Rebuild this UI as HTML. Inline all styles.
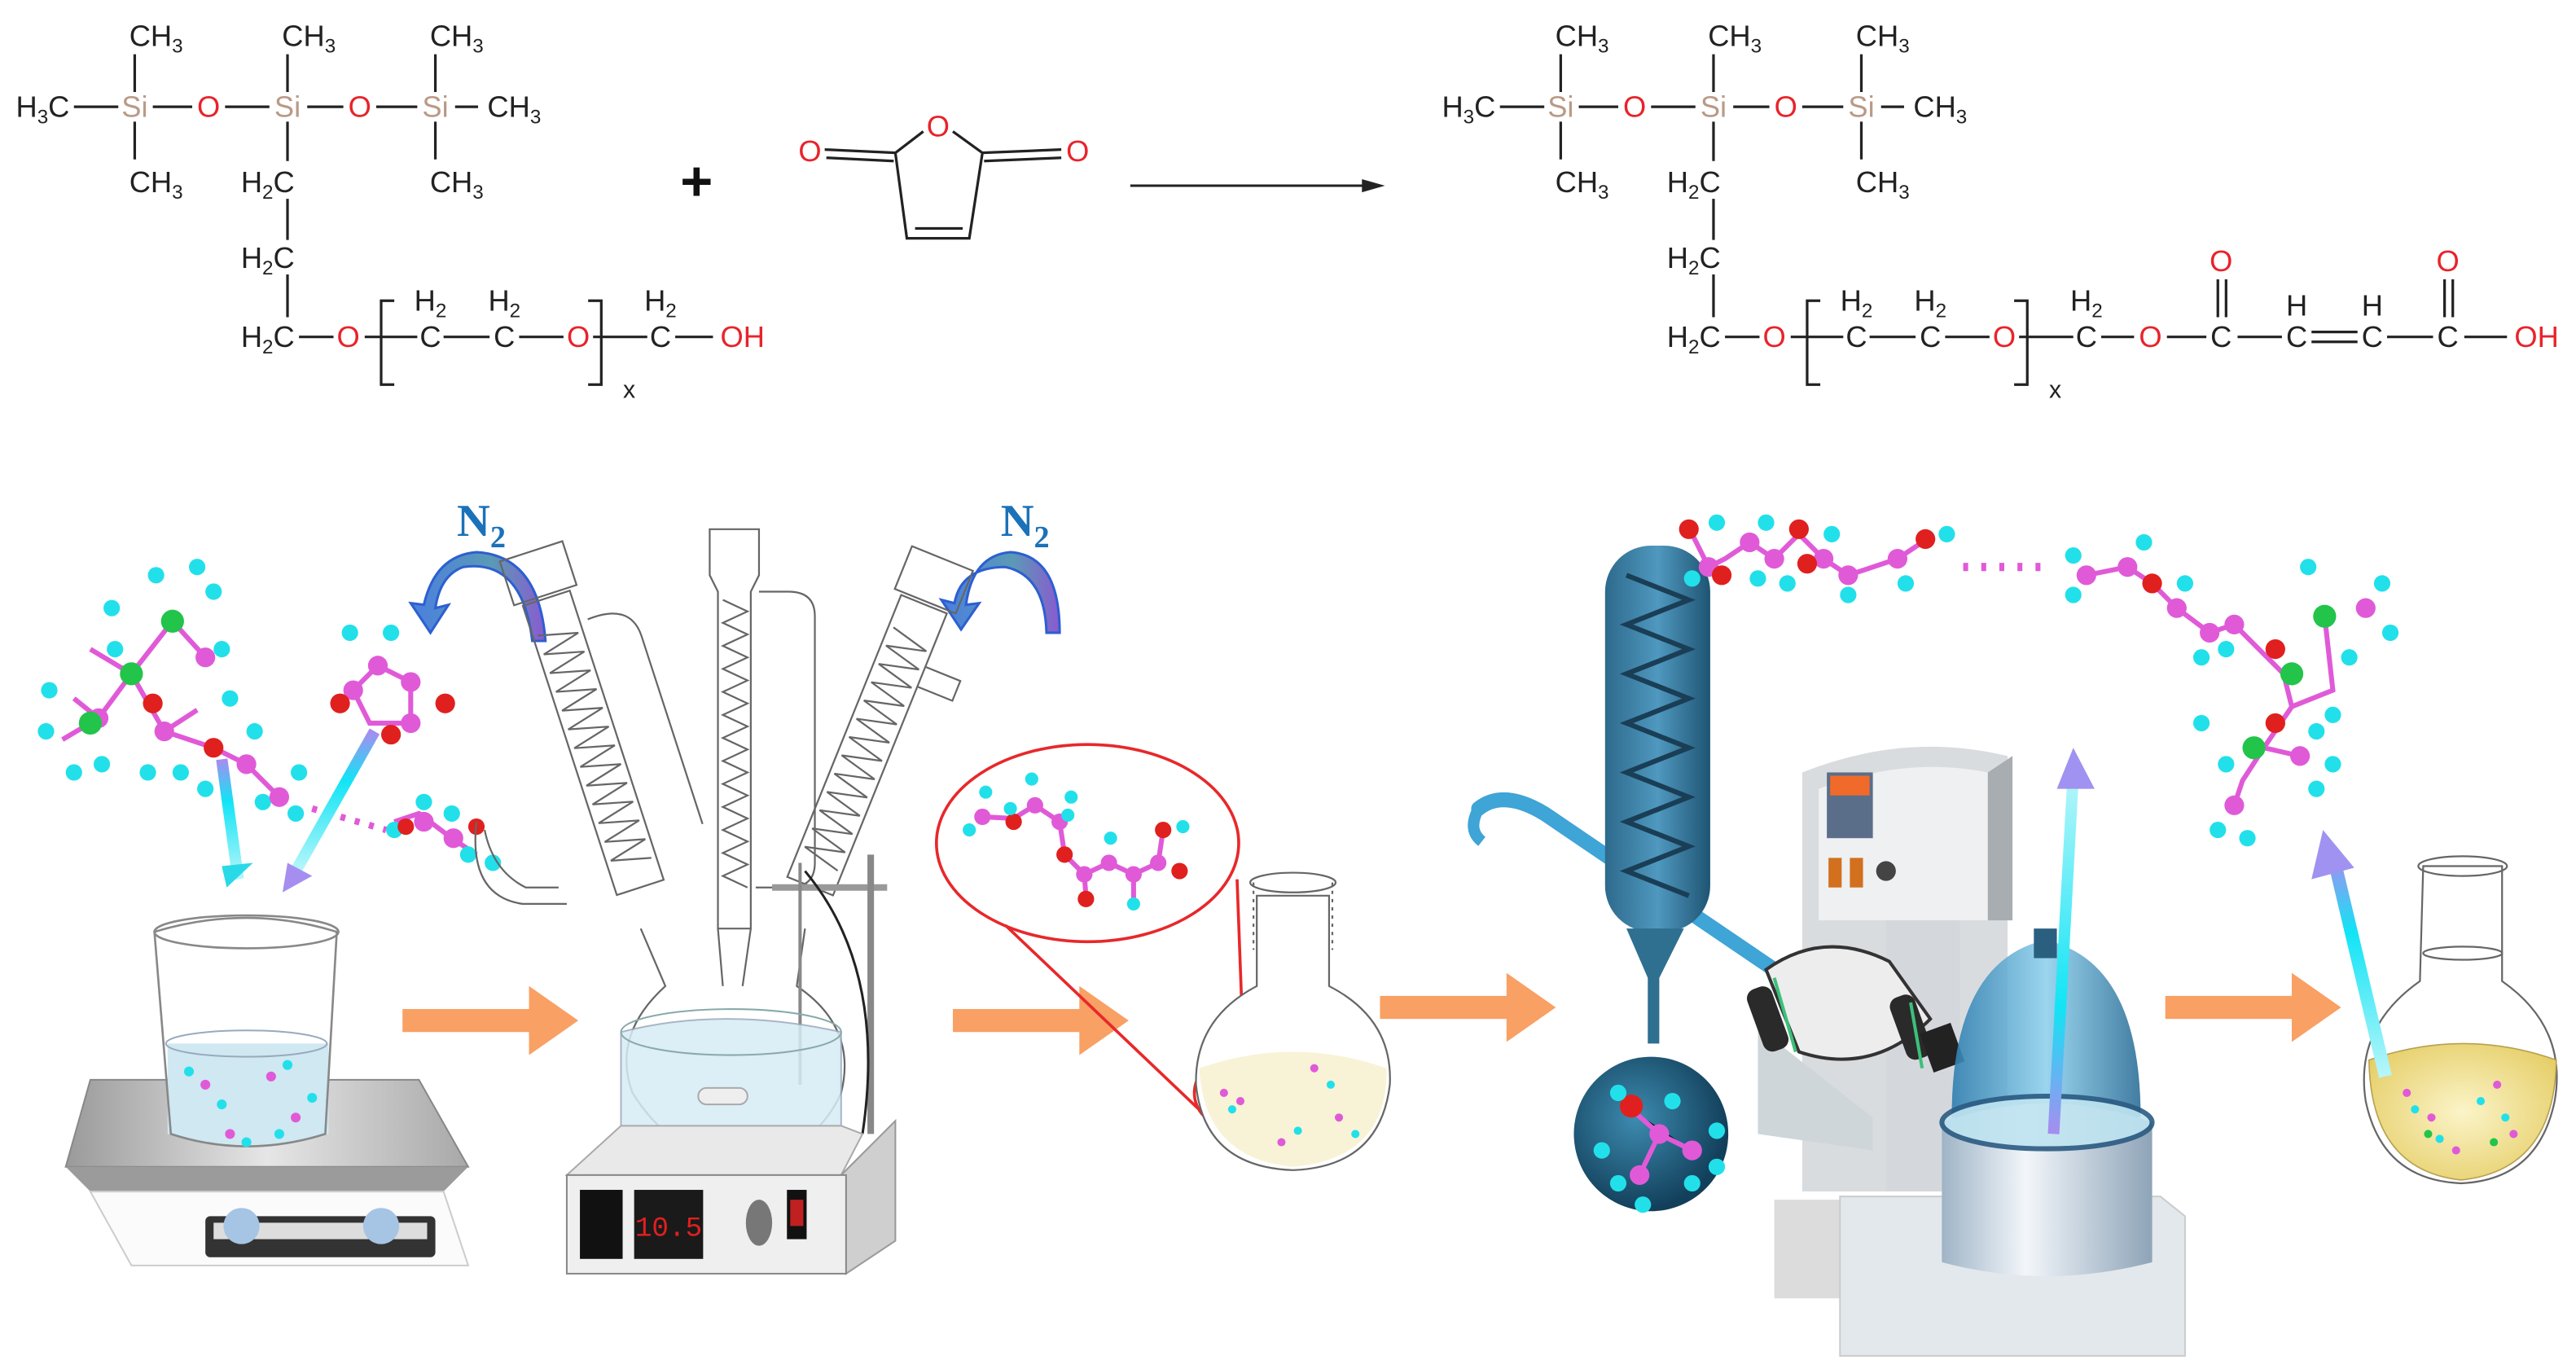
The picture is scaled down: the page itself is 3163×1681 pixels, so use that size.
<!DOCTYPE html>
<html><head><meta charset="utf-8"><style>
html,body{margin:0;padding:0;background:#fff;}
svg{display:block;}
.t{font-family:"Liberation Sans",sans-serif;font-size:18px;fill:#222;text-anchor:middle;}
.s{font-size:12px;}
.r{fill:#e8232a;}
.si{fill:#b99a86;}
.b{stroke:#222;stroke-width:1.6;fill:none;}
.g{stroke:#666;stroke-width:1.1;fill:none;}
</style></head><body>
<svg width="3163" height="1681" viewBox="0 0 1568 833" preserveAspectRatio="none" xmlns="http://www.w3.org/2000/svg">
<defs>
<linearGradient id="cy" x1="0" y1="0" x2="0" y2="1"><stop offset="0" stop-color="#a88cf0"/><stop offset="0.35" stop-color="#11e4f5"/><stop offset="1" stop-color="#b8f6fa"/></linearGradient>
<linearGradient id="n2" x1="0" y1="0" x2="1" y2="0"><stop offset="0" stop-color="#4a7fe0"/><stop offset="0.6" stop-color="#5a9ab5"/><stop offset="1" stop-color="#8a5ad0"/></linearGradient>
<linearGradient id="grey" x1="0" y1="0" x2="1" y2="0"><stop offset="0" stop-color="#9a9a9a"/><stop offset="0.5" stop-color="#e6e6e6"/><stop offset="1" stop-color="#a8a8a8"/></linearGradient>
<linearGradient id="col" x1="0" y1="0" x2="1" y2="0"><stop offset="0" stop-color="#2d6a8c"/><stop offset="0.5" stop-color="#4f98bf"/><stop offset="1" stop-color="#1f5473"/></linearGradient>
<radialGradient id="yel" cx="0.5" cy="0.5" r="0.6"><stop offset="0" stop-color="#fbf4c8"/><stop offset="1" stop-color="#e6cf6a"/></radialGradient>
<radialGradient id="bulb" cx="0.4" cy="0.4" r="0.6"><stop offset="0" stop-color="#3d8bb0"/><stop offset="1" stop-color="#123f5a"/></radialGradient>
<linearGradient id="dome" x1="0" y1="0" x2="1" y2="0"><stop offset="0" stop-color="#2f7fb0"/><stop offset="0.5" stop-color="#8fd0ec"/><stop offset="1" stop-color="#2d6f98"/></linearGradient>
<linearGradient id="pot" x1="0" y1="0" x2="1" y2="0"><stop offset="0" stop-color="#9fb4c6"/><stop offset="0.4" stop-color="#f2f6fa"/><stop offset="1" stop-color="#8ea4b8"/></linearGradient>
</defs>

<!-- ===== Reactant 1 ===== -->
<g>
<text class="t" x="95" y="28">CH<tspan class="s" dy="4">3</tspan></text>
<text class="t" x="188" y="28">CH<tspan class="s" dy="4">3</tspan></text>
<text class="t" x="278" y="28">CH<tspan class="s" dy="4">3</tspan></text>
<text class="t" x="26" y="71">H<tspan class="s" dy="4">3</tspan><tspan dy="-4">C</tspan></text>
<text class="t si" x="82" y="71">Si</text>
<text class="t r" x="127" y="71">O</text>
<text class="t si" x="175" y="71">Si</text>
<text class="t r" x="219" y="71">O</text>
<text class="t si" x="265" y="71">Si</text>
<text class="t" x="313" y="71">CH<tspan class="s" dy="4">3</tspan></text>
<text class="t" x="95" y="117">CH<tspan class="s" dy="4">3</tspan></text>
<text class="t" x="278" y="117">CH<tspan class="s" dy="4">3</tspan></text>
<text class="t" x="163" y="117">H<tspan class="s" dy="4">2</tspan><tspan dy="-4">C</tspan></text>
<text class="t" x="163" y="163">H<tspan class="s" dy="4">2</tspan><tspan dy="-4">C</tspan></text>
<text class="t" x="163" y="211">H<tspan class="s" dy="4">2</tspan><tspan dy="-4">C</tspan></text>
<text class="t r" x="212" y="211">O</text>
<text class="t" x="262" y="211">C</text>
<text class="t" x="307" y="211">C</text>
<text class="t r" x="352" y="211">O</text>
<text class="t" x="402" y="211">C</text>
<text class="t" x="262" y="189">H<tspan class="s" dy="4">2</tspan></text>
<text class="t" x="307" y="189">H<tspan class="s" dy="4">2</tspan></text>
<text class="t" x="402" y="189">H<tspan class="s" dy="4">2</tspan></text>
<text class="t" x="383" y="242" style="font-size:15px">x</text>
<path class="b" d="M82,33V56 M82,74V97 M175,33V56 M175,74V98 M265,33V56 M265,74V97
M45,65H72 M93,65H117 M137,65H164 M187,65H209 M229,65H254 M277,65H291
M175,121V146 M175,167V193 M182,205H203 M222,205H254 M270,205H298 M316,205H343 M361,205H394
M240,183H232V234H240 M358,183H366V234H358"/>
</g>
<text class="t r" x="452" y="211">OH</text>
<path class="b" d="M411,205H434"/>

<text x="424" y="122" style="font-family:'Liberation Sans',sans-serif;font-size:34px;font-weight:bold;text-anchor:middle;fill:#111">+</text>

<text class="t r" x="571" y="83">O</text>
<text class="t r" x="493" y="98">O</text>
<text class="t r" x="656" y="98">O</text>
<path class="b" d="M562,80L545,93L552,145L590,145L598,93L580,80 M557,139H586 M545,93L502,91 M544,98L503,96 M598,93L646,91 M599,98L646,96"/>

<path d="M688,113H830" stroke="#222" stroke-width="1.5"/>
<path d="M843,113L829,109L829,117Z" fill="#222"/>

<!-- ===== Product ===== -->
<g transform="translate(868,0)">
<text class="t" x="95" y="28">CH<tspan class="s" dy="4">3</tspan></text>
<text class="t" x="188" y="28">CH<tspan class="s" dy="4">3</tspan></text>
<text class="t" x="278" y="28">CH<tspan class="s" dy="4">3</tspan></text>
<text class="t" x="26" y="71">H<tspan class="s" dy="4">3</tspan><tspan dy="-4">C</tspan></text>
<text class="t si" x="82" y="71">Si</text>
<text class="t r" x="127" y="71">O</text>
<text class="t si" x="175" y="71">Si</text>
<text class="t r" x="219" y="71">O</text>
<text class="t si" x="265" y="71">Si</text>
<text class="t" x="313" y="71">CH<tspan class="s" dy="4">3</tspan></text>
<text class="t" x="95" y="117">CH<tspan class="s" dy="4">3</tspan></text>
<text class="t" x="278" y="117">CH<tspan class="s" dy="4">3</tspan></text>
<text class="t" x="163" y="117">H<tspan class="s" dy="4">2</tspan><tspan dy="-4">C</tspan></text>
<text class="t" x="163" y="163">H<tspan class="s" dy="4">2</tspan><tspan dy="-4">C</tspan></text>
<text class="t" x="163" y="211">H<tspan class="s" dy="4">2</tspan><tspan dy="-4">C</tspan></text>
<text class="t r" x="212" y="211">O</text>
<text class="t" x="262" y="211">C</text>
<text class="t" x="307" y="211">C</text>
<text class="t r" x="352" y="211">O</text>
<text class="t" x="402" y="211">C</text>
<text class="t" x="262" y="189">H<tspan class="s" dy="4">2</tspan></text>
<text class="t" x="307" y="189">H<tspan class="s" dy="4">2</tspan></text>
<text class="t" x="402" y="189">H<tspan class="s" dy="4">2</tspan></text>
<text class="t" x="383" y="242" style="font-size:15px">x</text>
<path class="b" d="M82,33V56 M82,74V97 M175,33V56 M175,74V98 M265,33V56 M265,74V97
M45,65H72 M93,65H117 M137,65H164 M187,65H209 M229,65H254 M277,65H291
M175,121V146 M175,167V193 M182,205H203 M222,205H254 M270,205H298 M316,205H343 M361,205H394
M240,183H232V234H240 M358,183H366V234H358"/>
</g>
<text class="t r" x="1309" y="211">O</text>
<text class="t" x="1352" y="211">C</text>
<text class="t r" x="1352" y="165">O</text>
<text class="t" x="1398" y="211">C</text>
<text class="t" x="1398" y="192">H</text>
<text class="t" x="1444" y="211">C</text>
<text class="t" x="1444" y="192">H</text>
<text class="t" x="1490" y="211">C</text>
<text class="t r" x="1490" y="165">O</text>
<text class="t r" x="1544" y="211">OH</text>
<path class="b" d="M1279,205H1299 M1319,205H1343 M1362,205H1389 M1407,202H1435 M1407,208H1435 M1453,205H1481 M1500,205H1526 M1350,170V193 M1355,170V193 M1488,170V193 M1493,170V193"/>

<!-- ===== Illustration ===== -->
<g fill="#f9a064">
<path d="M245,614H322V600L352,621L322,642V628H245Z"/>
<path d="M580,614H657V600L687,621L657,642V628H580Z"/>
<path d="M840,606H917V592L947,613L917,634V620H840Z"/>
<path d="M1318,606H1395V592L1425,613L1395,634V620H1318Z"/>
</g>

<!-- left molecules -->
<g stroke="#e05ad8" stroke-width="3" fill="none">
<path d="M105,378L80,410L60,437L38,450 M80,410L100,445L130,455L150,465L170,485 M105,378L125,400 M80,410L55,395 M60,437L45,425 M100,445L120,432"/>
<path d="M240,500L255,495L275,510L290,520"/>
<path d="M215,420L230,405L250,415L250,440L225,440Z"/>
</g>
<path d="M190,492L235,505" stroke="#e05ad8" stroke-dasharray="3,6" stroke-width="4" fill="none"/>
<g fill="#22e0ea">
<circle cx="95" cy="350" r="5"/><circle cx="120" cy="345" r="5"/><circle cx="130" cy="360" r="5"/><circle cx="68" cy="370" r="5"/><circle cx="70" cy="395" r="5"/><circle cx="30" cy="420" r="5"/><circle cx="28" cy="445" r="5"/><circle cx="45" cy="470" r="5"/><circle cx="62" cy="465" r="5"/><circle cx="90" cy="470" r="5"/><circle cx="110" cy="470" r="5"/><circle cx="140" cy="425" r="5"/><circle cx="135" cy="395" r="5"/><circle cx="155" cy="445" r="5"/><circle cx="125" cy="480" r="5"/><circle cx="182" cy="470" r="5"/><circle cx="180" cy="495" r="5"/><circle cx="160" cy="488" r="5"/>
<circle cx="213" cy="385" r="5"/><circle cx="238" cy="385" r="5"/>
<circle cx="240" cy="505" r="5"/><circle cx="258" cy="488" r="5"/><circle cx="275" cy="495" r="5"/><circle cx="285" cy="520" r="5"/><circle cx="300" cy="525" r="5"/>
</g>
<g fill="#e05ad8"><circle cx="60" cy="437" r="6"/><circle cx="100" cy="445" r="6"/><circle cx="150" cy="465" r="6"/><circle cx="170" cy="485" r="6"/><circle cx="125" cy="400" r="6"/><circle cx="215" cy="420" r="6"/><circle cx="250" cy="415" r="6"/><circle cx="230" cy="405" r="6"/><circle cx="250" cy="440" r="6"/><circle cx="258" cy="500" r="6"/><circle cx="276" cy="510" r="6"/></g>
<g fill="#e0201e"><circle cx="130" cy="455" r="6"/><circle cx="93" cy="428" r="6"/><circle cx="207" cy="428" r="6"/><circle cx="271" cy="428" r="6"/><circle cx="238" cy="447" r="6"/><circle cx="247" cy="503" r="5"/><circle cx="290" cy="503" r="5"/></g>
<g fill="#22c44a"><circle cx="105" cy="378" r="7"/><circle cx="80" cy="410" r="7"/><circle cx="55" cy="440" r="7"/></g>

<path d="M135,462L145,535" stroke="url(#cy)" stroke-width="7"/>
<path d="M138,540L135,527L154,525Z" fill="#2ad9e8"/>
<path d="M228,445L180,530" stroke="url(#cy)" stroke-width="7"/>
<path d="M172,543L175,525L190,533Z" fill="#a68ef0"/>

<!-- hot plate 1 -->
<path d="M55,657H255L285,710H40Z" fill="url(#grey)" stroke="#888" stroke-width="1"/>
<path d="M40,710H285L270,725H55Z" fill="#9b9b9b"/>
<path d="M55,725H270L285,770H80Z" fill="#fbfbfb" stroke="#ccc"/>
<rect x="125" y="740" width="140" height="25" fill="#333" rx="3"/>
<rect x="130" y="744" width="130" height="10" fill="#ddd"/>
<circle cx="147" cy="746" r="11" fill="#a6c4e4"/><circle cx="232" cy="746" r="11" fill="#a6c4e4"/>
<path d="M102,635H200V690Q151,705 102,690Z" fill="#cfe8f2"/>
<path d="M94,567Q150,550 205,567L198,690Q150,705 104,690Z" fill="none" stroke="#888" stroke-width="1.3"/>
<ellipse cx="150" cy="567" rx="56" ry="10" fill="none" stroke="#888" stroke-width="1.3"/>
<ellipse cx="150" cy="635" rx="49" ry="8" fill="none" stroke="#9ab" stroke-width="1"/>
<g fill="#e05ad8"><circle cx="125" cy="660" r="3"/><circle cx="165" cy="655" r="3"/><circle cx="140" cy="690" r="3"/><circle cx="180" cy="680" r="3"/></g>
<g fill="#22e0ea"><circle cx="115" cy="652" r="3"/><circle cx="135" cy="672" r="3"/><circle cx="175" cy="648" r="3"/><circle cx="190" cy="668" r="3"/><circle cx="150" cy="695" r="3"/><circle cx="170" cy="690" r="3"/></g>

<!-- N2 -->
<text x="293" y="326" style="font-family:'Liberation Serif',serif;font-weight:bold;font-size:28px;fill:#1b72b8;text-anchor:middle">N<tspan style="font-size:19px" dy="7">2</tspan></text>
<text x="624" y="326" style="font-family:'Liberation Serif',serif;font-weight:bold;font-size:28px;fill:#1b72b8;text-anchor:middle">N<tspan style="font-size:19px" dy="7">2</tspan></text>
<path d="M324,390Q318,340 282,345Q268,350 265,370L273,368L262,385L250,367L258,368Q265,338 290,336Q328,338 332,390Z" fill="url(#n2)" stroke="#2d5fd0" stroke-width="1.5"/>
<path d="M645,385Q645,338 615,336Q592,338 588,368L596,367L585,383L573,365L581,367Q585,345 612,345Q636,350 637,385Z" fill="url(#n2)" stroke="#2d5fd0" stroke-width="1.5"/>

<!-- glassware -->
<g class="g">
<path d="M432,322H462V350L457,360V565H437V360L432,350Z"/>
<path d="M440,365L455,372L440,379L455,386L440,393L455,400L440,407L455,414L440,421L455,428L440,435L455,442L440,449L455,456L440,463L455,470L440,477L455,484L440,491L455,498L440,505L455,512L440,519L455,526L440,533L455,540"/>
<path d="M462,360H480Q496,360 496,375V525Q496,540 480,540H460"/>
<g transform="rotate(-18 360 455)">
<path d="M347,360H377V545H347Z"/>
<path d="M350,380L374,386L350,392L374,398L350,404L374,410L350,416L374,422L350,428L374,434L350,440L374,446L350,452L374,458L350,464L374,470L350,476L374,482L350,488L374,494L350,500L374,506L350,512L374,518L350,524L374,530"/>
<path d="M342,330H382V358H342Z"/>
<path d="M382,380Q410,378 410,400V520"/>
</g>
<g transform="rotate(22 525 455)">
<path d="M512,360H542V545H512Z"/>
<path d="M515,380L539,386L515,392L539,398L515,404L539,410L515,416L539,422L515,428L539,434L515,440L539,446L515,452L539,458L515,464L539,470L515,476L539,482L515,488L539,494L515,500L539,506L515,512L539,518L515,524L539,530"/>
<path d="M507,330H547V358H507Z"/>
<path d="M542,395H565V408H542"/>
</g>
<path d="M295,505Q300,530 320,540H340"/>
<path d="M290,500Q285,545 318,550H345"/>
<path d="M390,565L405,600Q372,630 385,665Q410,705 450,705Q495,703 512,665Q522,625 485,600L490,565"/>
<path d="M437,565L440,600 M457,565L452,600"/>
</g>
<path d="M470,540H540" stroke="#999" stroke-width="4"/>
<path d="M530,520V690" stroke="#888" stroke-width="4"/>
<path d="M487,525V660" stroke="#888" stroke-width="2"/>
<path d="M490,530Q540,590 525,690" stroke="#222" stroke-width="1.5" fill="none"/>
<path d="M378,628Q440,612 512,628V685Q445,700 378,685Z" fill="#d7ecf5" opacity="0.85" stroke="#9ab" stroke-width="1"/>
<ellipse cx="445" cy="628" rx="67" ry="14" fill="none" stroke="#8aa" stroke-width="1"/>
<rect x="425" y="662" width="30" height="10" rx="5" fill="#eee" stroke="#aaa"/>
<path d="M378,685H512L525,690L512,715H345Z" fill="#e9e9e9" stroke="#aaa"/>
<path d="M512,715L545,682V755L515,775Z" fill="#cfcfcf" stroke="#999"/>
<rect x="345" y="715" width="170" height="60" fill="#efefef" stroke="#888"/>
<rect x="353" y="724" width="26" height="42" fill="#111"/>
<rect x="386" y="724" width="42" height="42" fill="#1a1a1a"/>
<text x="407" y="752" style="font-family:'Liberation Mono',monospace;font-size:17px;fill:#e02020;text-anchor:middle">10.5</text>
<ellipse cx="462" cy="744" rx="8" ry="14" fill="#777"/>
<rect x="479" y="724" width="12" height="30" fill="#111"/>
<rect x="481" y="730" width="8" height="16" fill="#c02020"/>

<!-- red magnifier -->
<ellipse cx="662" cy="513" rx="92" ry="60" fill="none" stroke="#e8282a" stroke-width="1.8"/>
<path d="M612,563L735,680 M753,535L758,670" stroke="#e8282a" stroke-width="1.8"/>
<circle cx="747" cy="665" r="20" fill="none" stroke="#e8282a" stroke-width="1.8"/>
<g stroke="#e05ad8" stroke-width="3" fill="none"><path d="M598,497L617,498L630,490L645,500L648,520L660,532L675,525L690,532L705,525L708,505 M660,532L661,545 M690,532L690,550"/></g>
<g fill="#e05ad8"><circle cx="598" cy="497" r="5"/><circle cx="630" cy="490" r="5"/><circle cx="645" cy="500" r="5"/><circle cx="660" cy="532" r="5"/><circle cx="675" cy="525" r="5"/><circle cx="690" cy="532" r="5"/><circle cx="705" cy="525" r="5"/></g>
<g fill="#e0201e"><circle cx="617" cy="500" r="5"/><circle cx="648" cy="520" r="5"/><circle cx="661" cy="547" r="5"/><circle cx="708" cy="505" r="5"/><circle cx="718" cy="530" r="5"/></g>
<g fill="#22e0ea"><circle cx="590" cy="505" r="4"/><circle cx="600" cy="482" r="4"/><circle cx="628" cy="474" r="4"/><circle cx="652" cy="485" r="4"/><circle cx="650" cy="496" r="4"/><circle cx="676" cy="510" r="4"/><circle cx="690" cy="550" r="4"/><circle cx="720" cy="503" r="4"/><circle cx="615" cy="492" r="4"/></g>

<!-- small flask -->
<g class="g">
<path d="M765,545V600Q727,620 728,660Q733,710 787,712Q840,710 846,660Q848,620 809,600V545Z" fill="#fff"/>
<ellipse cx="787" cy="537" rx="26" ry="6"/>
<path d="M763,537V578 M811,537V578" stroke-dasharray="2,3"/>
</g>
<path d="M730,650Q787,630 844,650Q845,705 787,710Q733,705 730,650Z" fill="#f7f2d2" opacity="0.9"/>
<g fill="#e05ad8"><circle cx="745" cy="665" r="2.5"/><circle cx="755" cy="670" r="2.5"/><circle cx="800" cy="650" r="2.5"/><circle cx="815" cy="680" r="2.5"/><circle cx="780" cy="695" r="2.5"/></g>
<g fill="#22e0ea"><circle cx="750" cy="675" r="2.5"/><circle cx="810" cy="660" r="2.5"/><circle cx="790" cy="688" r="2.5"/><circle cx="825" cy="690" r="2.5"/></g>

<!-- rotary evaporator -->
<path d="M900,492Q915,480 940,495L1080,590" stroke="#3fa4d6" stroke-width="9" fill="none" stroke-linecap="round"/>
<path d="M900,492Q893,505 902,512" stroke="#3fa4d6" stroke-width="7" fill="none"/>
<rect x="977" y="332" width="64" height="235" rx="28" fill="url(#col)"/>
<path d="M990,350L1028,365L990,380L1028,395L990,410L1028,425L990,440L1028,455L990,470L1028,485L990,500L1028,515L990,530L1028,545" stroke="#1a3e55" stroke-width="3" fill="none"/>
<path d="M990,565L1025,565L1010,595V635H1003V595Z" fill="#2f6f90"/>
<circle cx="1005" cy="690" r="47" fill="url(#bulb)"/>
<g stroke="#e05ad8" stroke-width="3"><path d="M993,675L1010,690L1030,700 M1010,690L998,715"/></g>
<circle cx="993" cy="673" r="7" fill="#e0201e"/>
<g fill="#e05ad8"><circle cx="1010" cy="690" r="6"/><circle cx="1030" cy="700" r="6"/><circle cx="998" cy="715" r="6"/></g>
<g fill="#22e0ea"><circle cx="985" cy="665" r="5"/><circle cx="1018" cy="670" r="5"/><circle cx="1045" cy="688" r="5"/><circle cx="1045" cy="710" r="5"/><circle cx="985" cy="720" r="5"/><circle cx="1000" cy="733" r="5"/><circle cx="1030" cy="720" r="5"/><circle cx="975" cy="700" r="5"/></g>
<path d="M1080,730H1130V790H1080Z" fill="#dcdcdc"/>
<path d="M1120,728H1315L1330,740V825H1120Z" fill="#e3e8ec" stroke="#ccc"/>
<path d="M1097,470Q1160,445 1222,460V725H1097Z" fill="#d9dcde"/>
<path d="M1107,480Q1160,460 1210,470V560H1107Z" fill="#eef0f1"/>
<path d="M1210,470L1225,460V560L1210,560Z" fill="#a8adb2"/>
<rect x="1112" y="470" width="28" height="40" fill="#5a6e8a"/>
<rect x="1114" y="472" width="24" height="12" fill="#f06a2a"/>
<rect x="1113" y="522" width="8" height="18" fill="#d2701d"/><rect x="1126" y="522" width="8" height="18" fill="#d2701d"/>
<circle cx="1148" cy="530" r="6" fill="#444"/>
<rect x="1148" y="560" width="45" height="165" fill="#d4d8dc"/>
<path d="M1070,625L1140,680V700L1070,690Z" fill="#cfd6da"/>
<path d="M1075,590Q1110,565 1150,585L1175,620Q1140,655 1095,640Z" fill="#ededed" stroke="#333" stroke-width="2"/>
<rect x="1068" y="600" width="16" height="40" rx="6" fill="#2a2a2a" transform="rotate(-20 1076 620)"/>
<rect x="1155" y="605" width="16" height="40" rx="6" fill="#2a2a2a" transform="rotate(-20 1163 625)"/>
<path d="M1080,595L1093,640" stroke="#3cc07a" stroke-width="2"/>
<path d="M1163,610L1170,650" stroke="#3cc07a" stroke-width="2"/>
<rect x="1172" y="625" width="20" height="25" fill="#222" transform="rotate(-20 1182 637)"/>
<path d="M1188,680Q1188,585 1245,572Q1303,585 1303,680Z" fill="url(#dome)" opacity="0.9"/>
<rect x="1238" y="565" width="14" height="18" fill="#2a5f80"/>
<path d="M1182,683Q1245,660 1310,683V768Q1245,785 1182,768Z" fill="url(#pot)"/>
<ellipse cx="1246" cy="683" rx="64" ry="16" fill="#bfe4f1" stroke="#2b5b82" stroke-width="3" opacity="0.9"/>
<path d="M1250,690L1262,470" stroke="url(#cy)" stroke-width="7" transform="rotate(180 1256 580)"/>
<path d="M1262,455L1252,480L1275,480Z" fill="#9f92f0"/>

<!-- final flask -->
<g class="g">
<path d="M1475,527H1523V597Q1563,625 1555,670Q1545,718 1498,720Q1450,718 1440,670Q1433,625 1473,597Z" fill="#fff"/>
<ellipse cx="1499" cy="527" rx="27" ry="6"/>
<ellipse cx="1499" cy="580" rx="24" ry="4"/>
</g>
<path d="M1442,645Q1500,625 1556,645Q1555,712 1498,718Q1443,712 1442,645Z" fill="url(#yel)" stroke="#b8a050" stroke-width="0.8"/>
<g fill="#e05ad8"><circle cx="1465" cy="665" r="2.5"/><circle cx="1480" cy="680" r="2.5"/><circle cx="1520" cy="660" r="2.5"/><circle cx="1530" cy="690" r="2.5"/><circle cx="1495" cy="700" r="2.5"/></g>
<g fill="#22e0ea"><circle cx="1470" cy="675" r="2.5"/><circle cx="1510" cy="670" r="2.5"/><circle cx="1525" cy="680" r="2.5"/><circle cx="1485" cy="693" r="2.5"/></g>
<g fill="#22c44a"><circle cx="1478" cy="690" r="2.5"/><circle cx="1518" cy="695" r="2.5"/></g>
<path d="M1452,655L1420,520" stroke="url(#cy)" stroke-width="8"/>
<path d="M1414,505L1407,535L1433,528Z" fill="#9f92f0"/>

<!-- top-right molecule -->
<g stroke="#e05ad8" stroke-width="3" fill="none">
<path d="M1030,325L1040,345L1050,340L1065,330L1080,340L1095,325L1110,340L1125,350L1140,345L1155,340L1170,330"/>
<path d="M1270,350L1295,345L1310,355L1325,370L1345,385L1360,380L1375,395L1390,410L1395,430L1378,455L1365,475L1360,490 M1395,430L1420,420L1415,375 M1378,455L1400,460"/>
</g>
<path d="M1195,345H1250" stroke="#e05ad8" stroke-dasharray="3,8" stroke-width="5" fill="none"/>
<g fill="#e05ad8"><circle cx="1040" cy="345" r="6"/><circle cx="1065" cy="330" r="6"/><circle cx="1080" cy="340" r="6"/><circle cx="1110" cy="340" r="6"/><circle cx="1125" cy="350" r="6"/><circle cx="1155" cy="340" r="6"/><circle cx="1270" cy="350" r="6"/><circle cx="1295" cy="345" r="6"/><circle cx="1325" cy="370" r="6"/><circle cx="1345" cy="385" r="6"/><circle cx="1360" cy="380" r="6"/><circle cx="1360" cy="490" r="6"/><circle cx="1400" cy="460" r="6"/><circle cx="1440" cy="370" r="6"/></g>
<g fill="#e0201e"><circle cx="1028" cy="322" r="6"/><circle cx="1048" cy="350" r="6"/><circle cx="1095" cy="322" r="6"/><circle cx="1100" cy="343" r="6"/><circle cx="1172" cy="328" r="6"/><circle cx="1310" cy="355" r="6"/><circle cx="1385" cy="395" r="6"/><circle cx="1385" cy="440" r="6"/></g>
<g fill="#22c44a"><circle cx="1415" cy="375" r="7"/><circle cx="1395" cy="410" r="7"/><circle cx="1372" cy="455" r="7"/></g>
<g fill="#22e0ea"><circle cx="1045" cy="318" r="5"/><circle cx="1030" cy="352" r="5"/><circle cx="1075" cy="318" r="5"/><circle cx="1088" cy="355" r="5"/><circle cx="1070" cy="352" r="5"/><circle cx="1125" cy="362" r="5"/><circle cx="1115" cy="325" r="5"/><circle cx="1160" cy="355" r="5"/><circle cx="1185" cy="325" r="5"/><circle cx="1262" cy="338" r="5"/><circle cx="1262" cy="362" r="5"/><circle cx="1305" cy="330" r="5"/><circle cx="1330" cy="355" r="5"/><circle cx="1340" cy="400" r="5"/><circle cx="1355" cy="395" r="5"/><circle cx="1405" cy="345" r="5"/><circle cx="1450" cy="355" r="5"/><circle cx="1455" cy="385" r="5"/><circle cx="1430" cy="400" r="5"/><circle cx="1420" cy="435" r="5"/><circle cx="1340" cy="440" r="5"/><circle cx="1355" cy="465" r="5"/><circle cx="1350" cy="505" r="5"/><circle cx="1368" cy="510" r="5"/><circle cx="1410" cy="480" r="5"/><circle cx="1420" cy="465" r="5"/><circle cx="1410" cy="445" r="5"/></g>
</svg>
</body></html>
